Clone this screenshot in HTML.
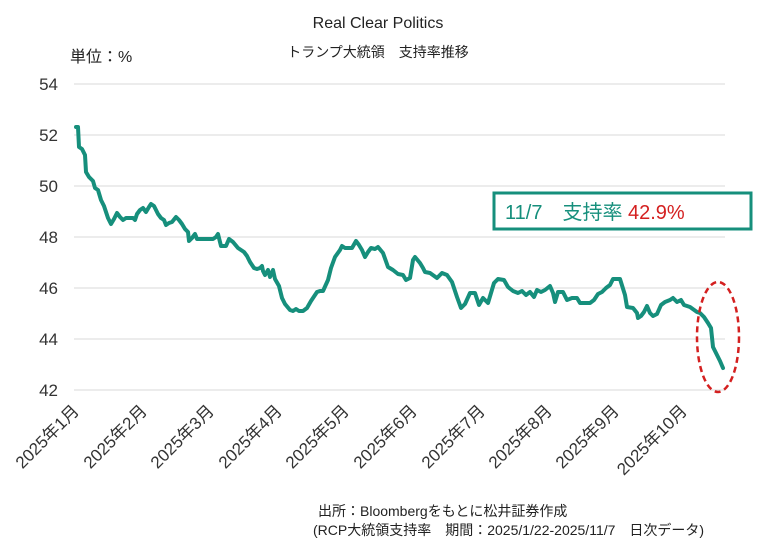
<!DOCTYPE html>
<html><head><meta charset="utf-8"><style>
body{margin:0;background:#fff}
svg{display:block;font-family:"Liberation Sans","Noto Sans CJK JP",sans-serif}
</style></head><body>
<svg width="761" height="553" viewBox="0 0 761 553">
<rect width="761" height="553" fill="#fff"/>
<text x="378" y="28" font-size="16" text-anchor="middle" fill="#222">Real Clear Politics</text>
<text x="378" y="57" font-size="14" text-anchor="middle" fill="#222">トランプ大統領　支持率推移</text>
<text x="70" y="62" font-size="16" fill="#222">単位：%</text>
<g stroke="#d9d9d9" stroke-width="1">
<line x1="74" x2="725" y1="84" y2="84"/><line x1="74" x2="725" y1="135" y2="135"/>
<line x1="74" x2="725" y1="186" y2="186"/><line x1="74" x2="725" y1="237" y2="237"/>
<line x1="74" x2="725" y1="288" y2="288"/><line x1="74" x2="725" y1="339" y2="339"/>
<line x1="74" x2="725" y1="390" y2="390"/>
</g>
<g font-size="17" fill="#333" text-anchor="end">
<text x="58" y="90">54</text><text x="58" y="141">52</text><text x="58" y="192">50</text>
<text x="58" y="243">48</text><text x="58" y="294">46</text><text x="58" y="345">44</text><text x="58" y="396">42</text>
</g>
<polyline fill="none" stroke="#168f7c" stroke-width="4" stroke-linejoin="round" stroke-linecap="round" points="76,127 78,127 79,147 82,149 85,155 86,172 89,177 93,181 95,188 98,190 101,200 104,206 108,218 111,224 114,219 117,213 120,217 123,220 126,218 133,218 135,220 137,214 140,210 143,208 146,212 149,207 151,204 154,206 158,214 161,218 164,220 166,225 169,223 172,222 176,217 179,220 182,224 185,229 188,232 189,241 192,238 195,234 197,239 213,239 216,237 218,234 221,246 226,246 229,239 233,242 238,248 244,252 247,256 250,262 254,268 257,269 260,268 262,266 263,271 265,275 268,270 270,277 273,270 275,279 279,286 282,298 285,304 290,310 293,311 296,309 299,311 303,311 307,308 311,301 317,292 320,291 323,291 328,280 331,268 335,257 340,250 342,246 345,248 352,248 356,241 359,245 362,250 365,257 368,252 371,248 375,249 378,247 383,253 388,267 393,270 398,274 403,275 406,280 410,278 413,260 415,257 420,263 423,268 425,272 430,273 437,278 442,273 447,275 452,282 457,297 461,308 465,304 470,293 475,293 479,305 483,298 488,303 494,283 498,279 504,280 508,287 513,291 518,293 522,291 526,295 530,292 534,297 537,290 541,292 545,290 550,286 553,293 555,302 558,292 563,292 567,300 572,298 577,298 580,303 590,303 594,300 598,294 602,292 606,288 610,285 613,279 620,279 625,295 627,307 633,308 637,313 638,318 641,316 644,312 647,306 650,313 653,316 657,314 661,305 665,302 670,300 673,298 677,302 681,300 684,305 690,307 697,312 700,313 704,317 708,323 711,328 713,347 717,355 720,361 723,368"/>
<ellipse cx="718" cy="337" rx="21" ry="55" fill="none" stroke="#d42020" stroke-width="2.5" stroke-dasharray="6,4"/>
<rect x="494" y="193" width="257" height="36" fill="#fff" stroke="#168f7c" stroke-width="3"/>
<text x="505" y="219" font-size="20" fill="#168f7c">11/7　支持率 <tspan fill="#d42020">42.9%</tspan></text>
<g font-size="17" fill="#333" text-anchor="end">
<text transform="translate(80,412) rotate(-45)">2025年1月</text>
<text transform="translate(148,412) rotate(-45)">2025年2月</text>
<text transform="translate(215,412) rotate(-45)">2025年3月</text>
<text transform="translate(283,412) rotate(-45)">2025年4月</text>
<text transform="translate(350,412) rotate(-45)">2025年5月</text>
<text transform="translate(418,412) rotate(-45)">2025年6月</text>
<text transform="translate(486,412) rotate(-45)">2025年7月</text>
<text transform="translate(553,412) rotate(-45)">2025年8月</text>
<text transform="translate(620,412) rotate(-45)">2025年9月</text>
<text transform="translate(688,412) rotate(-45)">2025年10月</text>
</g>
<text x="318" y="516" font-size="14" fill="#222">出所：Bloombergをもとに松井証券作成</text>
<text x="313" y="535" font-size="14" fill="#222">(RCP大統領支持率　期間：2025/1/22-2025/11/7　日次データ)</text>
</svg>
</body></html>
